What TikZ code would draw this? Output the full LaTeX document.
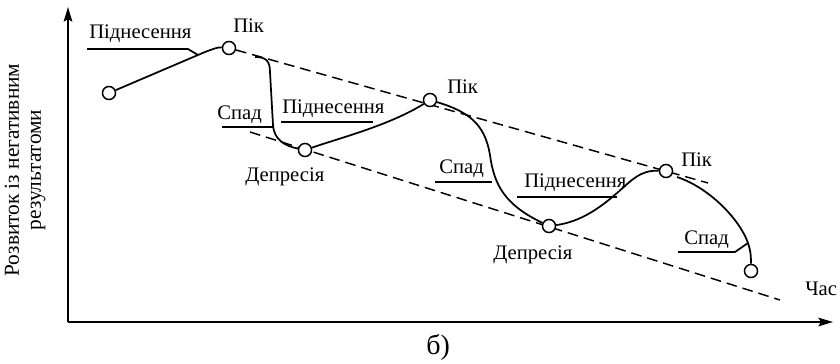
\documentclass[tikz,border=0pt]{standalone}
\usepackage{fontspec}
\setmainfont{Liberation Serif}
\usetikzlibrary{arrows.meta}
\pgfdeclarelayer{bg}
\pgfsetlayers{bg,main}
\begin{document}
\begin{tikzpicture}[x=0.75pt,y=-0.75pt,
  lbl/.style={font=\fontsize{15.5}{18}\selectfont, inner sep=0pt, anchor=base west},
  pt/.style={circle, draw, fill=white, line width=1.1pt, minimum size=9.8pt, inner sep=0pt},
  curve/.style={line width=1.3pt},
  lead/.style={line width=1.3pt},
  dsh/.style={line width=1.1pt, dash pattern=on 8pt off 4.5pt},
  axis/.style={line width=1.4pt, -{Stealth[length=11pt,width=6.5pt,inset=2pt]}}]
\useasboundingbox (0,0) rectangle (840,364);

% axes
\coordinate (o) at (68,322);
\coordinate (ytip) at (68,7);
\coordinate (xtip) at (833,322);
\draw[axis] (o) -- (ytip);
\draw[axis] (o) -- (xtip);

% points
\node[pt] (s)  at (109,93) {};
\node[pt] (p1) at (229,48) {};
\node[pt] (d1) at (305,150) {};
\node[pt] (p2) at (430,100) {};
\node[pt] (d2) at (549,226) {};
\node[pt] (p3) at (666,171) {};
\node[pt] (e)  at (751,271) {};

% labels
\node[lbl] (t1) at (89,38) {Піднесення};
\node[lbl] (k1) at (233,32) {Пік};
\node[lbl] (sp1) at (217,119) {Спад};
\node[lbl] (t2) at (282,113) {Піднесення};
\node[lbl] (dp1) at (245,181) {Депресія};
\node[lbl] (k2) at (447,93) {Пік};
\node[lbl] (sp2) at (439,173) {Спад};
\node[lbl] (t3) at (524,187) {Піднесення};
\node[lbl] (dp2) at (493,259) {Депресія};
\node[lbl] (k3) at (681,166) {Пік};
\node[lbl] (sp3) at (684,244) {Спад};
\node[lbl] (time) at (805,295) {Час};
\node[lbl, font=\fontsize{21}{24}\selectfont] (cap) at (426,354) {б)};
\node[rotate=90, align=center, inner sep=0pt, font=\fontsize{16}{16.5}\selectfont] (ylab) at (25,170)
  {Розвиток із негативним\\результатоми};

% coordinates
\coordinate (a1) at (205,52);
\coordinate (c1) at (255,57);
\coordinate (c1b) at (270,72);
\coordinate (c1c) at (273,125);
\coordinate (c2) at (490,155);
\coordinate (c3) at (617,193);
\coordinate (c4) at (677,177);
\coordinate (c4b) at (748,243);
\coordinate (ub) at (708,183);
\coordinate (la) at (250,132);
\coordinate (lb) at (780,300);
% leaders
\coordinate (l1a) at (87,49);  \coordinate (l1b) at (188,49); \coordinate (l1c) at (198,55);
\coordinate (l2a) at (222,127); \coordinate (l2b) at (273,127);
\coordinate (l3a) at (281,122); \coordinate (l3b) at (373,122);
\coordinate (l4a) at (435,182); \coordinate (l4b) at (492,182);
\coordinate (l5a) at (517,197); \coordinate (l5b) at (617,197);
\coordinate (l6a) at (678,252); \coordinate (l6b) at (735,252); \coordinate (l6c) at (748,243);

\begin{pgfonlayer}{bg}
\draw[dsh] (p1) -- (ub);
\draw[dsh] (la) -- (lb);
\draw[curve] (s) -- (a1) .. controls (213,49) and (218,47) .. (p1);
\draw[curve] (c1) .. controls (265,57) and (270,60) .. (c1b) -- (c1c) .. controls (274,140) and (285,146) .. (d1);
\draw[curve] (d1) .. controls (340,138) and (390,125) .. (p2);
\draw[curve] (p2) .. controls (470,112) and (485,125) .. (c2) .. controls (494,185) and (505,205) .. (d2);
\draw[curve] (d2) .. controls (580,222) and (600,208) .. (c3) .. controls (632,180) and (640,170) .. (p3);
\draw[curve] (c4) .. controls (710,188) and (740,220) .. (c4b) .. controls (751,252) and (751,258) .. (e);
\draw[lead] (l1a) -- (l1b) -- (l1c);
\draw[lead] (l2a) -- (l2b);
\draw[lead] (l3a) -- (l3b);
\draw[lead] (l4a) -- (l4b);
\draw[lead] (l5a) -- (l5b);
\draw[lead] (l6a) -- (l6b) -- (l6c);
\end{pgfonlayer}
\end{tikzpicture}
\end{document}
